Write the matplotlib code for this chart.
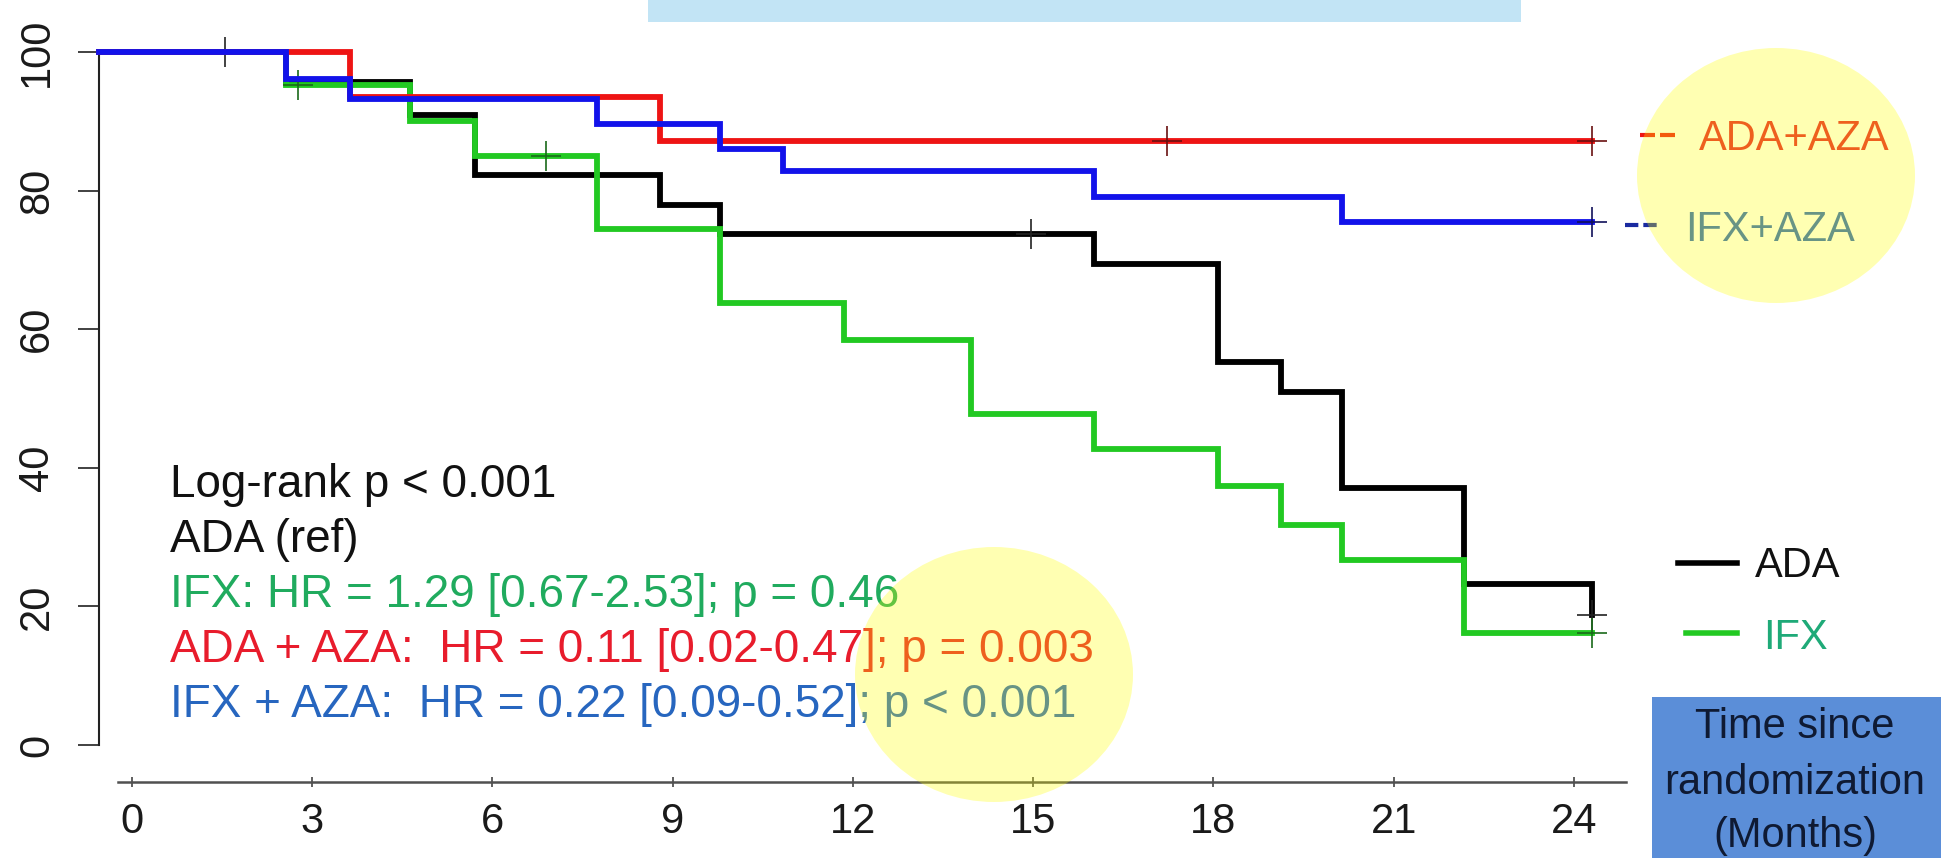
import matplotlib
matplotlib.use("Agg")
import matplotlib.pyplot as plt
from matplotlib.patches import Ellipse, Rectangle
from matplotlib.lines import Line2D
import numpy as np

plt.rcParams["font.family"] = ["Liberation Sans", "DejaVu Sans"]

W, H, DPI = 1941, 858, 100

# Kaplan-Meier steps: months since randomization, % still on treatment
ada_t = [0, 3.11, 5.18, 6.25, 9.34, 10.34, 16.56, 18.63, 19.68, 20.69, 22.72, 24.85]
ada_s = [100, 95.6, 90.9, 82.3, 77.9, 73.7, 69.4, 55.3, 51.0, 37.1, 23.2, 18.8]
ada_cens = [2.10, 15.51, 24.85]

ifx_t = [0, 3.11, 5.18, 6.25, 8.29, 10.34, 12.40, 14.51, 16.56, 18.63, 19.68, 20.69, 22.72]
ifx_s = [100, 95.2, 90.1, 85.0, 74.4, 63.8, 58.5, 47.7, 42.7, 37.4, 31.7, 26.7, 16.2]
ifx_cens = [3.31, 7.44, 24.85]

adaaza_t = [0, 4.18, 9.34]
adaaza_s = [100, 93.5, 87.1]
adaaza_cens = [17.78, 24.85]

ifxaza_t = [0, 3.11, 4.18, 8.29, 10.34, 11.38, 16.56, 20.69]
ifxaza_s = [100, 96.1, 93.2, 89.6, 86.0, 82.9, 79.1, 75.5]
ifxaza_cens = [24.85]

follow_up_end = 24.85

y_ticks = [0, 20, 40, 60, 80, 100]
x_ticks = [0, 3, 6, 9, 12, 15, 18, 21, 24]

stats_lines = [
    "Log-rank p < 0.001",
    "ADA (ref)",
    "IFX: HR = 1.29 [0.67-2.53]; p = 0.46",
    "ADA + AZA:  HR = 0.11 [0.02-0.47]; p = 0.003",
    "IFX + AZA:  HR = 0.22 [0.09-0.52]; p < 0.001",
]
stats_colors = ["#111111", "#111111", "#20ab5e", "#e81c2c", "#2766bf"]

C_ADA, C_IFX, C_ADAAZA, C_IFXAZA = "#000000", "#22c922", "#ee1414", "#1212ea"


def fx(px):
    return px / W


def fy(py):
    return 1 - py / H


fig = plt.figure(figsize=(W / DPI, H / DPI), dpi=DPI)
fig.patch.set_facecolor("white")

# main survival panel
ax = fig.add_axes([fx(99), fy(745), (1620 - 99) / W, (745 - 52) / H])
ax.set_xlim(0, (1620 - 99) / 60.08)
ax.set_ylim(0, 100)
ax.patch.set_alpha(0)
for side in ("top", "right", "bottom"):
    ax.spines[side].set_visible(False)
ax.spines["left"].set_linewidth(1.5)
ax.spines["left"].set_color("#222222")
ax.set_xticks([])
ax.set_yticks(y_ticks)
ax.set_yticklabels([str(v) for v in y_ticks], rotation=90, va="center",
                   fontsize=30, color="#1a1a1a")
ax.tick_params(axis="y", length=15, width=1.3, pad=15, color="#333333")


def censor_values(times, surv, cens):
    idx = np.searchsorted(times, cens, side="right") - 1
    return np.asarray(surv)[idx]


series = [
    (ada_t, ada_s, ada_cens, C_ADA, "#222222", 3),
    (ifx_t, ifx_s, ifx_cens, C_IFX, "#1a6a1a", 4),
    (adaaza_t, adaaza_s, adaaza_cens, C_ADAAZA, "#6a1010", 5),
    (ifxaza_t, ifxaza_s, ifxaza_cens, C_IFXAZA, "#10105a", 6),
]
for t, s, cens, col, ccol, z in series:
    tt = list(t) + [follow_up_end]
    ss = list(s) + [s[-1]]
    ax.step(tt, ss, where="post", color=col, lw=4.2, zorder=z, clip_on=False,
            solid_joinstyle="miter")
    ax.plot(cens, censor_values(t, s, cens), ls="none", marker="+", ms=22,
            mew=1.2, color=ccol, zorder=z + 0.5, clip_on=False)

# separate time axis underneath
axb = fig.add_axes([fx(118), fy(782), (1626 - 118) / W, 0.001])
axb.set_xlim((118 - 132) / 60.08, (1626 - 132) / 60.08)
axb.patch.set_alpha(0)
for side in ("top", "right", "left"):
    axb.spines[side].set_visible(False)
axb.spines["bottom"].set_linewidth(1.8)
axb.spines["bottom"].set_color("#505050")
axb.set_yticks([])
axb.set_xticks(x_ticks)
axb.set_xticklabels([str(v) for v in x_ticks], fontsize=30, color="#1a1a1a")
axb.tick_params(axis="x", direction="inout", length=7, width=1.2, pad=11,
                color="#444444")

# hazard ratio annotations
for i, (txt, col) in enumerate(zip(stats_lines, stats_colors)):
    fig.text(fx(170), fy(497 + 55 * i), txt, color=col, fontsize=33,
             ha="left", va="baseline")

# end-of-curve labels for the combination arms
fig.add_artist(Line2D([fx(1640), fx(1675)], [fy(135), fy(135)], color=C_ADAAZA,
                      lw=3.0, dashes=(3.6, 1.2)))
fig.text(fx(1699), fy(150), "ADA+AZA", color="#e81c2c", fontsize=30,
         ha="left", va="baseline")
fig.add_artist(Line2D([fx(1625), fx(1657)], [fy(225), fy(225)], color="#1a2aa0",
                      lw=3.0, dashes=(3.2, 1.2)))
fig.text(fx(1685), fy(241), "IFX+AZA", color="#2766bf", fontsize=30,
         ha="left", va="baseline")

# legend for the monotherapy arms
fig.add_artist(Line2D([fx(1678), fx(1737)], [fy(563), fy(563)], color=C_ADA, lw=4.0))
fig.text(fx(1755), fy(577), "ADA", color="#111111", fontsize=30,
         ha="left", va="baseline")
fig.add_artist(Line2D([fx(1686), fx(1737)], [fy(633), fy(633)], color=C_IFX, lw=4.0))
fig.text(fx(1763), fy(649), "IFX", color="#1faa78", fontsize=30,
         ha="left", va="baseline")

# axis title box
fig.add_artist(Rectangle((fx(1652), 0), 1 - fx(1652), fy(697), transform=fig.transFigure,
                         facecolor="#5b8ed8", edgecolor="none", zorder=4))
for txt, base in (("Time since", 738), ("randomization", 794), ("(Months)", 847)):
    fig.text(fx(1795), fy(base), txt, color="#0f1a33", fontsize=30,
             ha="center", va="baseline", zorder=5)

# title strip at the top
fig.add_artist(Rectangle((fx(648), fy(22)), (1521 - 648) / W, 22 / H,
                         transform=fig.transFigure, facecolor="#c2e4f5",
                         edgecolor="none", zorder=4))

# highlight circles
for cx, cy in ((1776, 175.5), (994, 674.5)):
    fig.add_artist(Ellipse((fx(cx), fy(cy)), 278 / W, 255 / H, transform=fig.transFigure,
                           facecolor=(1.0, 1.0, 0.0), alpha=0.3, edgecolor="none",
                           zorder=10))

fig.savefig("out.png", dpi=DPI, facecolor="white")
